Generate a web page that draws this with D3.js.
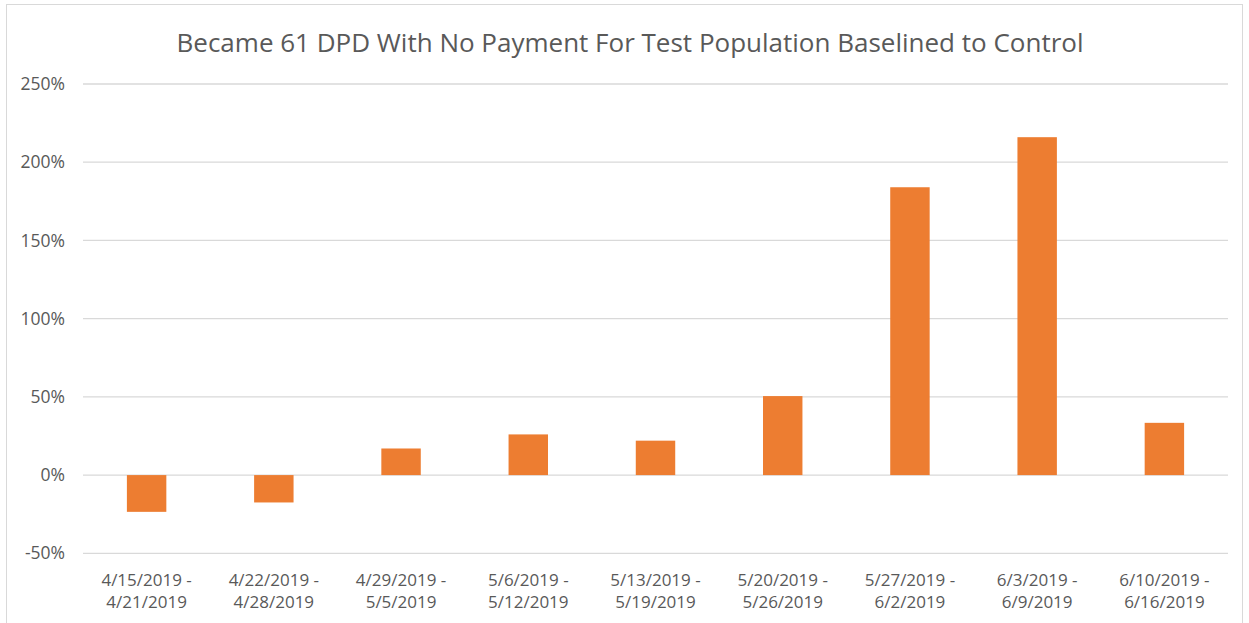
<!DOCTYPE html>
<html>
<head>
<meta charset="utf-8">
<script src="https://cdn.jsdelivr.net/npm/d3@7"></script>
<style>
  body { margin: 0; background: #fff; }
</style>
</head>
<body>
<div id="chart"></div>
<script>
const title = "Became 61 DPD With No Payment For Test Population Baselined to Control";
const weeks = [
  "4/15/2019 - 4/21/2019", "4/22/2019 - 4/28/2019", "4/29/2019 - 5/5/2019",
  "5/6/2019 - 5/12/2019", "5/13/2019 - 5/19/2019", "5/20/2019 - 5/26/2019",
  "5/27/2019 - 6/2/2019", "6/3/2019 - 6/9/2019", "6/10/2019 - 6/16/2019"
];
const pctChange = [-23.5, -17.5, 17, 26, 22, 50.5, 184, 216, 33.4];
const yTicks = [-50, 0, 50, 100, 150, 200, 250];

const W = 1249, H = 623;
const margin = { top: 84, right: 21, bottom: 70, left: 83 };
const width = W - margin.left - margin.right,
    height = 553.3 - margin.top;

const svg = d3.select("#chart").append("svg")
  .attr("width", W)
  .attr("height", H);

// outer frame
svg.append("rect")
  .attr("x", 6.5).attr("y", 4.5)
  .attr("width", 1236).attr("height", 640)
  .attr("fill", "none")
  .attr("stroke", "#d9d9d9");

svg.append("text")
  .attr("x", 630)
  .attr("y", 52)
  .attr("text-anchor", "middle")
  .style("font", "26px 'Open Sans', sans-serif")
  .style("fill", "#595959")
  .text(title);

const g = svg.append("g")
  .attr("transform", "translate(" + margin.left + "," + margin.top + ")");

const x = d3.scaleBand().domain(weeks).range([0, width])
  .paddingInner(0.69).paddingOuter(0.345);
const y = d3.scaleLinear().domain([-50, 250]).range([height, 0]);

// gridlines
g.append("g")
  .selectAll("line")
  .data(yTicks)
  .join("line")
  .attr("x1", 0)
  .attr("x2", width)
  .attr("y1", (d) => y(d))
  .attr("y2", (d) => y(d))
  .attr("stroke", "#d9d9d9")
  .attr("stroke-width", 1.3);

// y axis labels
const yAxis = g.append("g")
  .call(d3.axisLeft(y).tickValues(yTicks).tickSize(0).tickPadding(18).tickFormat((d) => d + "%"));
yAxis.select(".domain").remove();
yAxis.selectAll("text")
  .style("font", "17.5px 'Open Sans', sans-serif")
  .style("fill", "#595959");

// bars
g.selectAll(".bar")
  .data(pctChange)
  .join("rect")
  .attr("class", "bar")
  .attr("x", (d, i) => x(weeks[i]))
  .attr("width", x.bandwidth())
  .attr("y", (d) => y(Math.max(0, d)))
  .attr("height", (d) => Math.abs(y(d) - y(0)))
  .attr("fill", "#ed7d31");

// x labels, two lines each
const xl = g.append("g")
  .selectAll("text")
  .data(weeks)
  .join("text")
  .attr("text-anchor", "middle")
  .attr("transform", (d) => "translate(" + (x(d) + x.bandwidth() / 2) + "," + (height + 33) + ")")
  .style("font", "17px 'Open Sans', sans-serif")
  .style("fill", "#595959");

xl.append("tspan")
  .attr("x", 0).attr("dy", 0)
  .text((d) => d.split(" - ")[0] + " -");
xl.append("tspan")
  .attr("x", 0).attr("dy", 22)
  .text((d) => d.split(" - ")[1]);
</script>
</body>
</html>
